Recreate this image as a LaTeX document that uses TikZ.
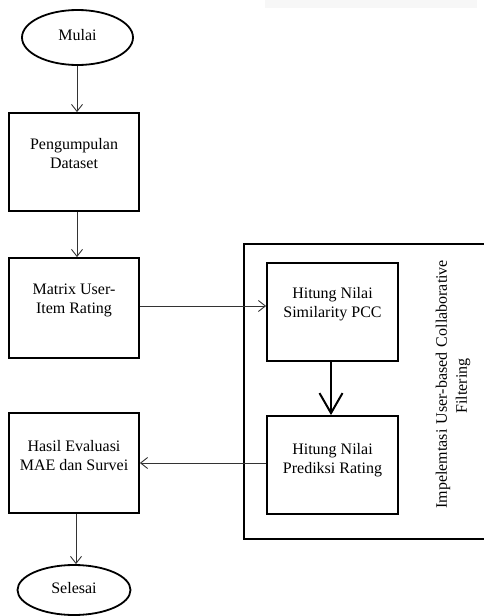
\documentclass[tikz,border=0pt]{standalone}
\usepackage{fontspec}
\setmainfont{Liberation Serif}
\usetikzlibrary{arrows.meta,shapes.geometric}
\begin{document}
\begin{tikzpicture}[x=1pt,y=-1pt,
  box/.style={draw=black,line width=1.8pt,minimum width=130pt,minimum height=98pt,inner sep=0pt},
  term/.style={draw=black,line width=1.8pt,ellipse,inner sep=0pt},
  txt/.style={align=center,font=\fontsize{16}{19}\selectfont,inner sep=0pt},
  conn/.style={draw=black!80,line width=0.9pt,-{Straight Barb[length=7pt,width=11pt,line width=0.9pt]}},
  bigconn/.style={draw=black,line width=2pt,-{Straight Barb[length=20pt,width=23pt,line width=2pt]}}]
\useasboundingbox (0,0) rectangle (484,616);
\fill[black!3] (265,0) rectangle (477,8);
% terminals
\node[term,minimum width=111pt,minimum height=55pt] (mulai) at (77.5,37.5) {};
\node[txt] (mulaiT) at (77.5,35) {Mulai};
\node[term,minimum width=113pt,minimum height=50pt] (selesai) at (74,590) {};
\node[txt] (selesaiT) at (74,588) {Selesai};
% left column boxes
\node[box] (peng) at (74,162) {};
\node[txt] (pengT) at (74,154) {Pengumpulan\\Dataset};
\node[box,minimum height=100pt] (matrix) at (74,308) {};
\node[txt] (matrixT) at (74,300) {Matrix User-\\Item Rating};
\node[box,minimum height=100pt] (hasil) at (74,463) {};
\node[txt] (hasilT) at (74,455.5) {Hasil Evaluasi\\MAE dan Survei};
% container
\draw[line width=1.8pt] (490,244) -- (244,244) -- (244,539) -- (490,539);
\node[box,minimum width=131pt] (sim) at (332.5,312) {};
\node[txt] (simT) at (332.5,304) {Hitung Nilai\\Similarity PCC};
\node[box,minimum width=131pt] (pred) at (332.5,465) {};
\node[txt] (predT) at (332.5,460) {Hitung Nilai\\Prediksi Rating};
\node[txt,rotate=90,font=\fontsize{16}{20}\selectfont] (impl) at (453,386)
  {\makebox[245pt][s]{Impelemtasi \ User-based \ Collaborative}\\Filtering};
% connectors
\draw[conn] (mulai.south -| 77,0) -- (peng.north -| 77,0);
\draw[conn] (peng.south -| 77,0) -- (matrix.north -| 77,0);
\draw[conn] ([yshift=2pt]matrix.east) -- ([yshift=2pt]matrix.east -| sim.west);
\draw[bigconn] (sim.south -| 331,0) -- (pred.north -| 331,0);
\draw[conn] (hasil.east -| pred.west) -- (hasil.east);
\draw[conn] (hasil.south -| 76,0) -- (selesai.north -| 76,0);
\end{tikzpicture}
\end{document}
